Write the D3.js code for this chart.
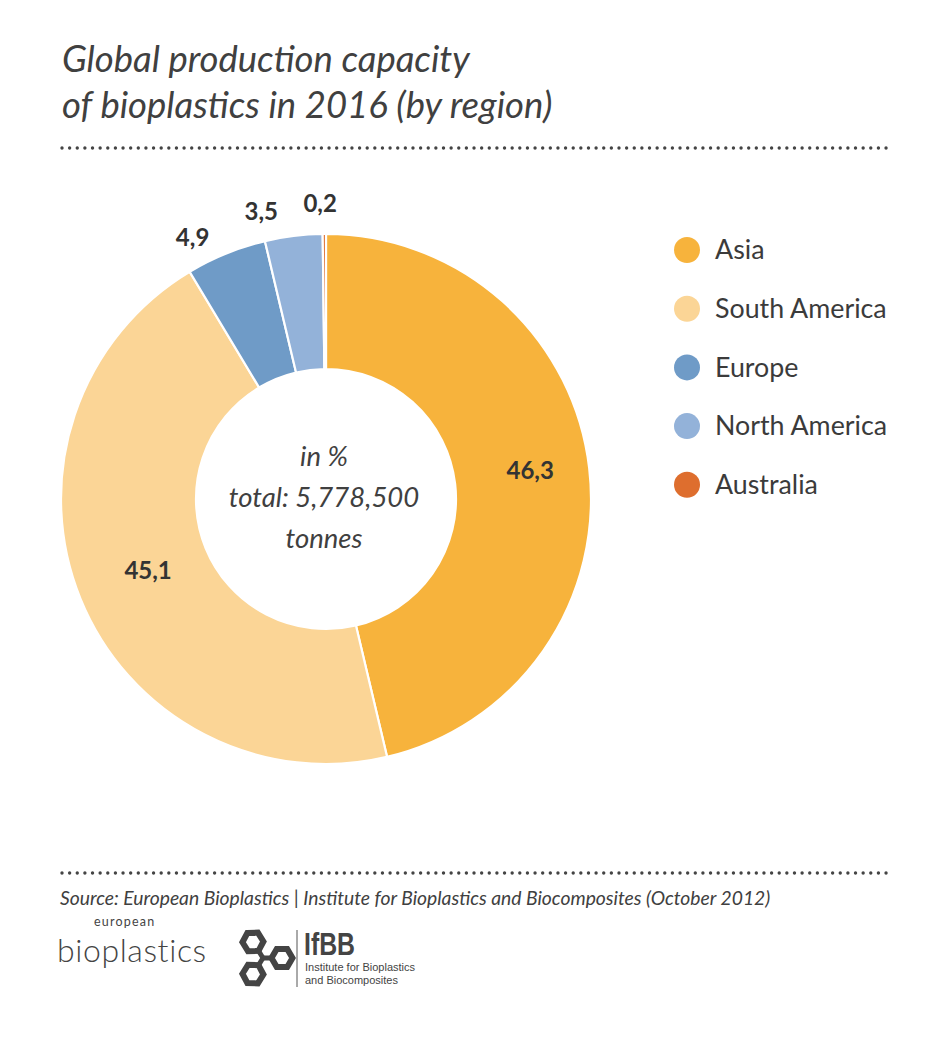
<!DOCTYPE html>
<html>
<head>
<meta charset="utf-8">
<script src="https://cdn.jsdelivr.net/npm/d3@7"></script>
<style>
  html, body { margin: 0; padding: 0; background: #fff; }
  svg { display: block; }
</style>
</head>
<body>
<svg id="chart" width="951" height="1044"></svg>
<script>
// ---- data ----
const regions = ["Asia", "South America", "Europe", "North America", "Australia"];
const shares = [46.3, 45.1, 4.9, 3.5, 0.2];
const labels = ["46,3", "45,1", "4,9", "3,5", "0,2"];
const colors = ["#F7B33C", "#FBD596", "#6F9BC7", "#93B2D9", "#DE6E2E"];
const titleLines = ["Global production capacity", "of bioplastics in 2016 (by region)"];
const centerLines = ["in %", "total: 5,778,500", "tonnes"];
const sourceText = "Source: European Bioplastics | Institute for Bioplastics and Biocomposites (October 2012)";

const data = regions.map((r, i) => ({ region: r, value: shares[i], label: labels[i], color: colors[i] }));

const svg = d3.select("#chart");
const textColor = "#3b3b3b";
const FONT = "Lato, 'Open Sans', sans-serif";

// ---- title ----
svg.append("g").selectAll("text").data(titleLines).join("text")
  .attr("x", 62).attr("y", (d, i) => 72 + i * 46)
  .attr("font-family", FONT).attr("font-style", "italic")
  .attr("font-size", 36.5).attr("fill", "#404040")
  .text(d => d);

// ---- dotted rules ----
function dotted(y) {
  svg.append("line").attr("x1", 62).attr("x2", 888).attr("y1", y).attr("y2", y)
    .attr("stroke", "#444").attr("stroke-width", 3.4)
    .attr("stroke-linecap", "round").attr("stroke-dasharray", "0 7.63");
}
dotted(148);
dotted(873);

// ---- donut ----
const cx = 326, cy = 499, rOuter = 265, rInner = 130;
const pie = d3.pie().value(d => d.value).sort(null);
const arcs = pie(data);
const arc = d3.arc().innerRadius(rInner).outerRadius(rOuter);
const g = svg.append("g").attr("transform", `translate(${cx},${cy})`);
g.selectAll("path").data(arcs).join("path")
  .attr("d", arc).attr("fill", d => d.data.color)
  .attr("stroke", "#fff").attr("stroke-width", 2.2);

// labels: inside for big slices, outside for small
const outerLabelArc = d3.arc().innerRadius(293).outerRadius(293);
const nudges = [[8, -6], [5, -3], [-23, 10], [-29, 3], [-4, -3]];
g.selectAll("text.lbl").data(arcs).join("text").attr("class", "lbl")
  .attr("transform", (d, i) => {
    const big = d.data.value > 10;
    const c = big ? arc.centroid(d) : outerLabelArc.centroid(d);
    return `translate(${c[0] + nudges[i][0]},${c[1] + nudges[i][1]})`;
  })
  .attr("text-anchor", "middle").attr("dy", "0.36em")
  .attr("font-family", FONT).attr("font-weight", "bold")
  .attr("font-size", 24).attr("fill", "#333")
  .text(d => d.data.label);

// center text
g.selectAll("text.ctr").data(centerLines).join("text").attr("class", "ctr")
  .attr("x", -2).attr("y", (d, i) => -33 + i * 41)
  .attr("text-anchor", "middle")
  .attr("font-family", FONT).attr("font-style", "italic")
  .attr("font-size", 27.5).attr("fill", "#404040")
  .text(d => d);

// ---- legend ----
const lg = svg.append("g").selectAll("g").data(data).join("g")
  .attr("transform", (d, i) => `translate(687,${250 + i * 58.7})`);
lg.append("circle").attr("r", 13).attr("fill", d => d.color);
lg.append("text").attr("x", 28).attr("dy", "0.35em")
  .attr("font-family", FONT).attr("font-size", 26.8).attr("fill", textColor)
  .text(d => d.region);

// ---- source ----
svg.append("text").attr("x", 60).attr("y", 905)
  .attr("font-family", FONT).attr("font-style", "italic")
  .attr("font-size", 19.3).attr("fill", "#404040").text(sourceText);

// ---- logos ----
const logo = svg.append("g");
logo.append("text").attr("x", 94).attr("y", 925.5)
  .attr("font-family", FONT).attr("fill", "#444")
  .attr("font-size", 12.5).attr("letter-spacing", 1.2).text("european");
logo.append("text").attr("x", 57).attr("y", 962)
  .attr("font-family", FONT).attr("fill", "#444")
  .attr("font-size", 32).attr("font-weight", 300).attr("letter-spacing", 0.6)
  .text("bioplastics");

// IfBB emblem: three hexagon rings in a pinwheel
const em = logo.append("g").attr("transform", "translate(263,958)");
const hex = d3.range(6).map(k => {
  const a = Math.PI / 3 * k;
  return [Math.cos(a) * 10.5, Math.sin(a) * 10.5];
});
[-122, 0, 122].forEach(ang => {
  const p = em.append("g").attr("transform", `rotate(${ang}) translate(19,0)`);
  p.append("path").attr("d", d3.line()(hex) + "Z")
    .attr("fill", "none").attr("stroke", "#444").attr("stroke-width", 6)
    .attr("stroke-linejoin", "miter");
  p.append("path").attr("d", "M-19,0L-9,0")
    .attr("stroke", "#444").attr("stroke-width", 5);
});
logo.append("line").attr("x1", 297).attr("x2", 297).attr("y1", 930).attr("y2", 987)
  .attr("stroke", "#555").attr("stroke-width", 1);
logo.append("text").attr("x", 304).attr("y", 955)
  .attr("font-family", "'Liberation Sans Narrow', 'Liberation Sans', sans-serif")
  .attr("font-size", 31).attr("font-weight", "bold").attr("fill", "#444")
  .attr("textLength", 51).attr("lengthAdjust", "spacingAndGlyphs").text("IfBB");
logo.append("text").attr("x", 305).attr("y", 971)
  .attr("font-family", "'Liberation Sans', sans-serif").attr("font-size", 11)
  .attr("fill", "#444").text("Institute for Bioplastics");
logo.append("text").attr("x", 305).attr("y", 984)
  .attr("font-family", "'Liberation Sans', sans-serif").attr("font-size", 11)
  .attr("fill", "#444").text("and Biocomposites");
</script>
</body>
</html>
